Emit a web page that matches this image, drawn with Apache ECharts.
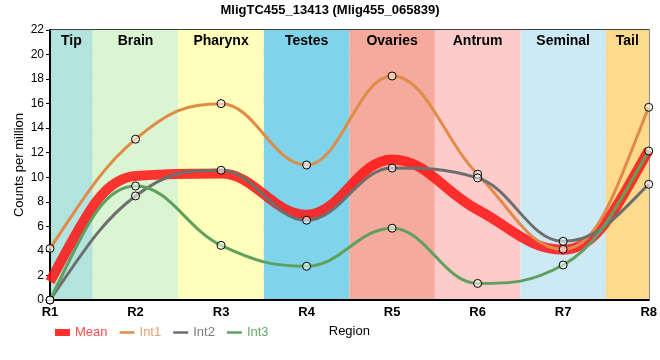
<!DOCTYPE html>
<html><head><meta charset="utf-8">
<script src="https://cdn.jsdelivr.net/npm/echarts@6/dist/echarts.min.js"></script>
<style>html,body{margin:0;padding:0;background:#fff}#c{width:660px;height:360px}</style>
</head><body><div id="c"></div>
<script>
const categories = ['R1','R2','R3','R4','R5','R6','R7','R8'];
const meanVals = [1.5, 10.1, 10.3, 6.95, 11.45, 7.35, 4.1, 12.2];
const int1Vals = [4.2, 13.1, 16.0, 11.0, 18.25, 10.25, 4.13, 15.7];
const int2Vals = [0.0, 8.48, 10.57, 6.5, 10.75, 9.95, 4.78, 9.43];
const int3Vals = [0.0, 9.29, 4.45, 2.75, 5.85, 1.35, 2.85, 12.14];
const bandNames = ['Tip','Brain','Pharynx','Testes','Ovaries','Antrum','Seminal','Tail'];
const bandColors = ['#b3e3de','#d9f5d2','#ffffbb','#7fd4eb','#f4aa9c','#fecbcb','#cdeaf4','#fdda8c'];
const yTicks = [0,2,4,6,8,10,12,14,16,18,20,22];

const chart = echarts.init(document.getElementById('c'), null, {renderer:'canvas'});
const toPairs = a => a.map((v,i)=>[i,v]);
const bandData = bandNames.map((n,i)=>[
  {name:n, xAxis: Math.max(0, i-0.5), itemStyle:{color:bandColors[i]}},
  {xAxis: Math.min(categories.length-1, i+0.5)}
]);
const font = 'Liberation Sans, Arial, sans-serif';

// spline control points: handle = 0.4 of segment, slope from neighbours, clamped at extremes
function controls(ys){
  const n = ys.length, sm = 1.5, den = sm + 1, h = 1/den;
  const L = [], R = [];
  for (let i=0;i<n;i++){
    if (i===0 || i===n-1){ L.push(null); R.push(null); continue; }
    const py = ys[i], ly0 = ys[i-1], ny = ys[i+1];
    const lx = (sm*i + (i-1))/den, rx = (sm*i + (i+1))/den;
    let ly = (sm*py + ly0)/den, ry = (sm*py + ny)/den;
    const corr = ((ry - ly) * (rx - i)) / (rx - lx) + py - ry;
    ly += corr; ry += corr;
    if (ly > ly0 && ly > py){ ly = Math.max(ly0, py); ry = 2*py - ly; }
    else if (ly < ly0 && ly < py){ ly = Math.min(ly0, py); ry = 2*py - ly; }
    if (ry > ny && ry > py){ ry = Math.max(ny, py); ly = 2*py - ry; }
    else if (ry < ny && ry < py){ ry = Math.min(ny, py); ly = 2*py - ry; }
    L.push([lx, ly]); R.push([rx, ry]);
  }
  const t1 = (R[1][1] - ys[1]) / h;
  const t0 = (3*(ys[1]-ys[0]) - t1)/2;
  R[0] = [h, ys[0] + t0*h];
  const tn = (ys[n-2] - L[n-2][1]) / h;
  const tl = (3*(ys[n-1]-ys[n-2]) - tn)/2;
  L[n-1] = [n-1-h, ys[n-1] - tl*h];
  return {L, R};
}
function curveSeries(name, ys, color, width, z){
  return {
    name, type:'custom', coordinateSystem:'cartesian2d', data:[[0,0]], z, silent:true,
    itemStyle:{color},
    renderItem:(params, api)=>{
      const {L, R} = controls(ys);
      const p0 = api.coord([0, ys[0]]);
      let d = 'M' + p0[0] + ',' + p0[1];
      for (let i=0;i<ys.length-1;i++){
        const c1 = api.coord(R[i]);
        const c2 = api.coord(L[i+1]);
        const e = api.coord([i+1, ys[i+1]]);
        d += ' C' + c1[0]+','+c1[1]+' '+c2[0]+','+c2[1]+' '+e[0]+','+e[1];
      }
      return {type:'path', shape:{pathData:d}, style:{fill:'none', stroke:color, lineWidth:width, lineCap:'butt', lineJoin:'round'}};
    }
  };
}
const pointSeries = (name, data) => ({
  name, type:'line', data: toPairs(data), lineStyle:{width:0, opacity:0},
  itemStyle:{color:'rgba(255,255,255,0.55)', borderColor:'#000', borderWidth:1},
  symbol:'circle', symbolSize:8, showSymbol:true, z:6, silent:true
});
chart.setOption({
  animation:false,
  textStyle:{fontFamily:font},
  title:{text:'MligTC455_13413 (Mlig455_065839)', left:'center', top:-1,
    textStyle:{fontSize:13, fontWeight:'bold', color:'#000', fontFamily:font}},
  grid:{left:50, right:10, top:30, bottom:60, show:true, borderColor:'#000', borderWidth:1.5, backgroundColor:'transparent'},
  legend:{left:50, top:321, itemGap:12, itemWidth:15, itemHeight:7,
    textStyle:{fontSize:13, fontFamily:font},
    data:[
      {name:'Mean', icon:'path://M0,0h15v7h-15z', textStyle:{color:'#ff4d4d'}, itemStyle:{color:'#ff3030', borderWidth:0}},
      {name:'Int1', icon:'path://M0,0h15v2.5h-15z', textStyle:{color:'#e8a070'}, itemStyle:{color:'#e08b48', borderWidth:0}},
      {name:'Int2', icon:'path://M0,0h15v2.5h-15z', textStyle:{color:'#7a7a7a'}, itemStyle:{color:'#6e6e6e', borderWidth:0}},
      {name:'Int3', icon:'path://M0,0h15v2.5h-15z', textStyle:{color:'#6aaa6a'}, itemStyle:{color:'#5fa05f', borderWidth:0}}
    ]},
  xAxis:{type:'value', min:0, max:categories.length-1, interval:1,
    name:'Region', nameLocation:'middle', nameGap:25, nameTextStyle:{fontSize:13, color:'#000', fontFamily:font},
    axisLine:{lineStyle:{color:'#000', width:2}}, axisTick:{show:false},
    axisLabel:{formatter:v=>categories[v], color:'#000', fontSize:13, fontWeight:'bold', margin:6, fontFamily:font},
    splitLine:{show:true, lineStyle:{color:'#c8c8c8', width:1}}},
  yAxis:{type:'value', min:yTicks[0], max:yTicks[yTicks.length-1], interval:2,
    name:'Counts per million', nameLocation:'middle', nameGap:24, nameMoveOverlap:false,
    nameTextStyle:{fontSize:13, color:'#000', fontFamily:font},
    axisLine:{show:true, lineStyle:{color:'#000', width:2}}, axisTick:{show:true, length:4, lineStyle:{color:'#000'}},
    axisLabel:{color:'#000', fontSize:12, margin:6, fontFamily:font},
    splitLine:{show:true, lineStyle:{color:'#c8c8c8', width:1}}},
  series:[
    {name:'bands', type:'line', data:[], silent:true, z:0,
      markArea:{silent:true, z:0, label:{show:true, position:'insideTop', distance:4, color:'#000', fontSize:14, fontWeight:'bold', fontFamily:font},
        data: bandData}},
    curveSeries('Mean', meanVals, 'rgba(255,20,20,0.86)', 10, 2),
    curveSeries('Int1', int1Vals, '#e08b48', 3, 3),
    curveSeries('Int2', int2Vals, '#6e6e6e', 3, 3),
    curveSeries('Int3', int3Vals, '#5fa05f', 3, 3),
    pointSeries('p1', int1Vals),
    pointSeries('p2', int2Vals),
    pointSeries('p3', int3Vals)
  ]
});
</script></body></html>
